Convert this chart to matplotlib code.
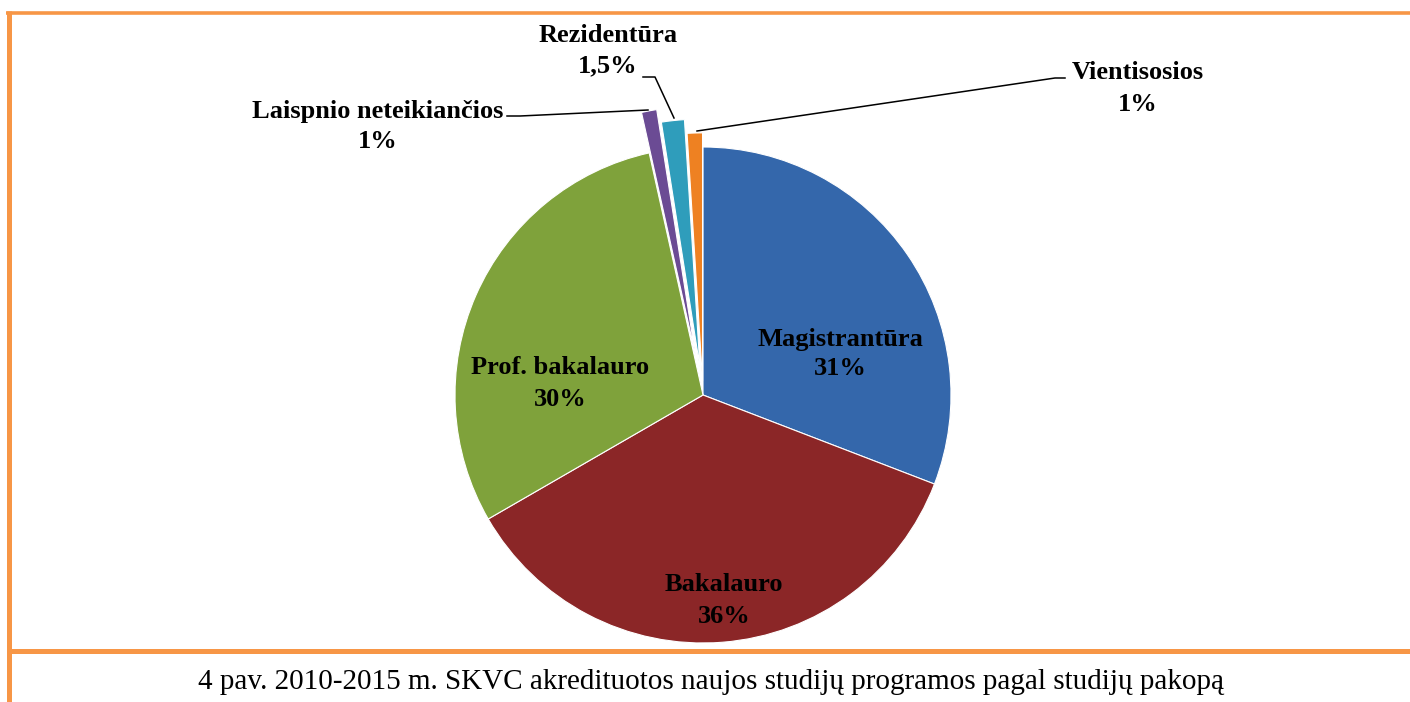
import matplotlib
matplotlib.use('Agg')
import matplotlib.pyplot as plt

# chart data (clockwise from 12 o'clock)
labels = ['Magistrantūra', 'Bakalauro', 'Prof. bakalauro',
          'Laispnio neteikiančios', 'Rezidentūra', 'Vientisosios']
values = [31, 36, 30, 1, 1.5, 1]
pct_text = ['31%', '36%', '30%', '1%', '1,5%', '1%']
colors = ['#3467AB', '#8B2627', '#7FA23B', '#6B4B94', '#2F9DBB', '#EE8122']
explode = [0, 0, 0, 0.166, 0.113, 0.057]

caption = '4 pav. 2010-2015 m. SKVC akredituotos naujos studijų programos pagal studijų pakopą'

W, H = 1410, 702
CX, CY, R = 703, 395, 248   # pie centre and radius in pixels
ORANGE = '#F79646'

fig = plt.figure(figsize=(W / 100, H / 100), dpi=100)
fig.patch.set_facecolor('white')

# pie axes sized so radius 1 == R pixels
ax = fig.add_axes([(CX - R) / W, (H - CY - R) / H, 2 * R / W, 2 * R / H])
ax.pie(values, colors=colors, explode=explode, startangle=90, counterclock=False,
       radius=1, wedgeprops={'edgecolor': 'white', 'linewidth': 0.8})
ax.set_xlim(-1, 1)
ax.set_ylim(-1, 1)
ax.axis('off')
ax.set_zorder(0)

# overlay axes in pixel coordinates (y down) for borders, leaders and text
bg = fig.add_axes([0, 0, 1, 1])
bg.set_xlim(0, W)
bg.set_ylim(H, 0)
bg.axis('off')
bg.set_zorder(1)

# orange frame
bg.plot([6, W], [12.5, 12.5], color=ORANGE, lw=2.6, solid_capstyle='butt')
bg.plot([8.5, 8.5], [11, H], color=ORANGE, lw=3.6, solid_capstyle='butt')
bg.plot([8, W], [651, 651], color=ORANGE, lw=3.6, solid_capstyle='butt')

# leader lines for the small slices
leaders = [
    ([507, 520, 648], [116, 116, 110]),
    ([643, 655, 674], [77, 77, 118]),
    ([1065, 1055, 697], [78, 78, 131]),
]
for xs, ys in leaders:
    bg.plot(xs, ys, color='black', lw=1.1)

# label positions: (x centre, name baseline, percent baseline)
label_pos = [
    (840, 346, 375),
    (724, 591, 623),
    (560, 374, 406),
    (378, 118, 148),
    (608, 42, 72),
    (1138, 79, 111),
]
font = dict(family='Liberation Serif', fontweight='bold', fontsize=19,
            color='black', ha='center', va='baseline')
for name, pct, (x, y1, y2) in zip(labels, pct_text, label_pos):
    bg.text(x, y1, name, **font)
    bg.text(x, y2, pct, **font)

bg.text(711, 689, caption, family='Liberation Serif', fontsize=21,
        color='black', ha='center', va='baseline')

fig.savefig('out.png', dpi=100, facecolor='white')
plt.close(fig)
